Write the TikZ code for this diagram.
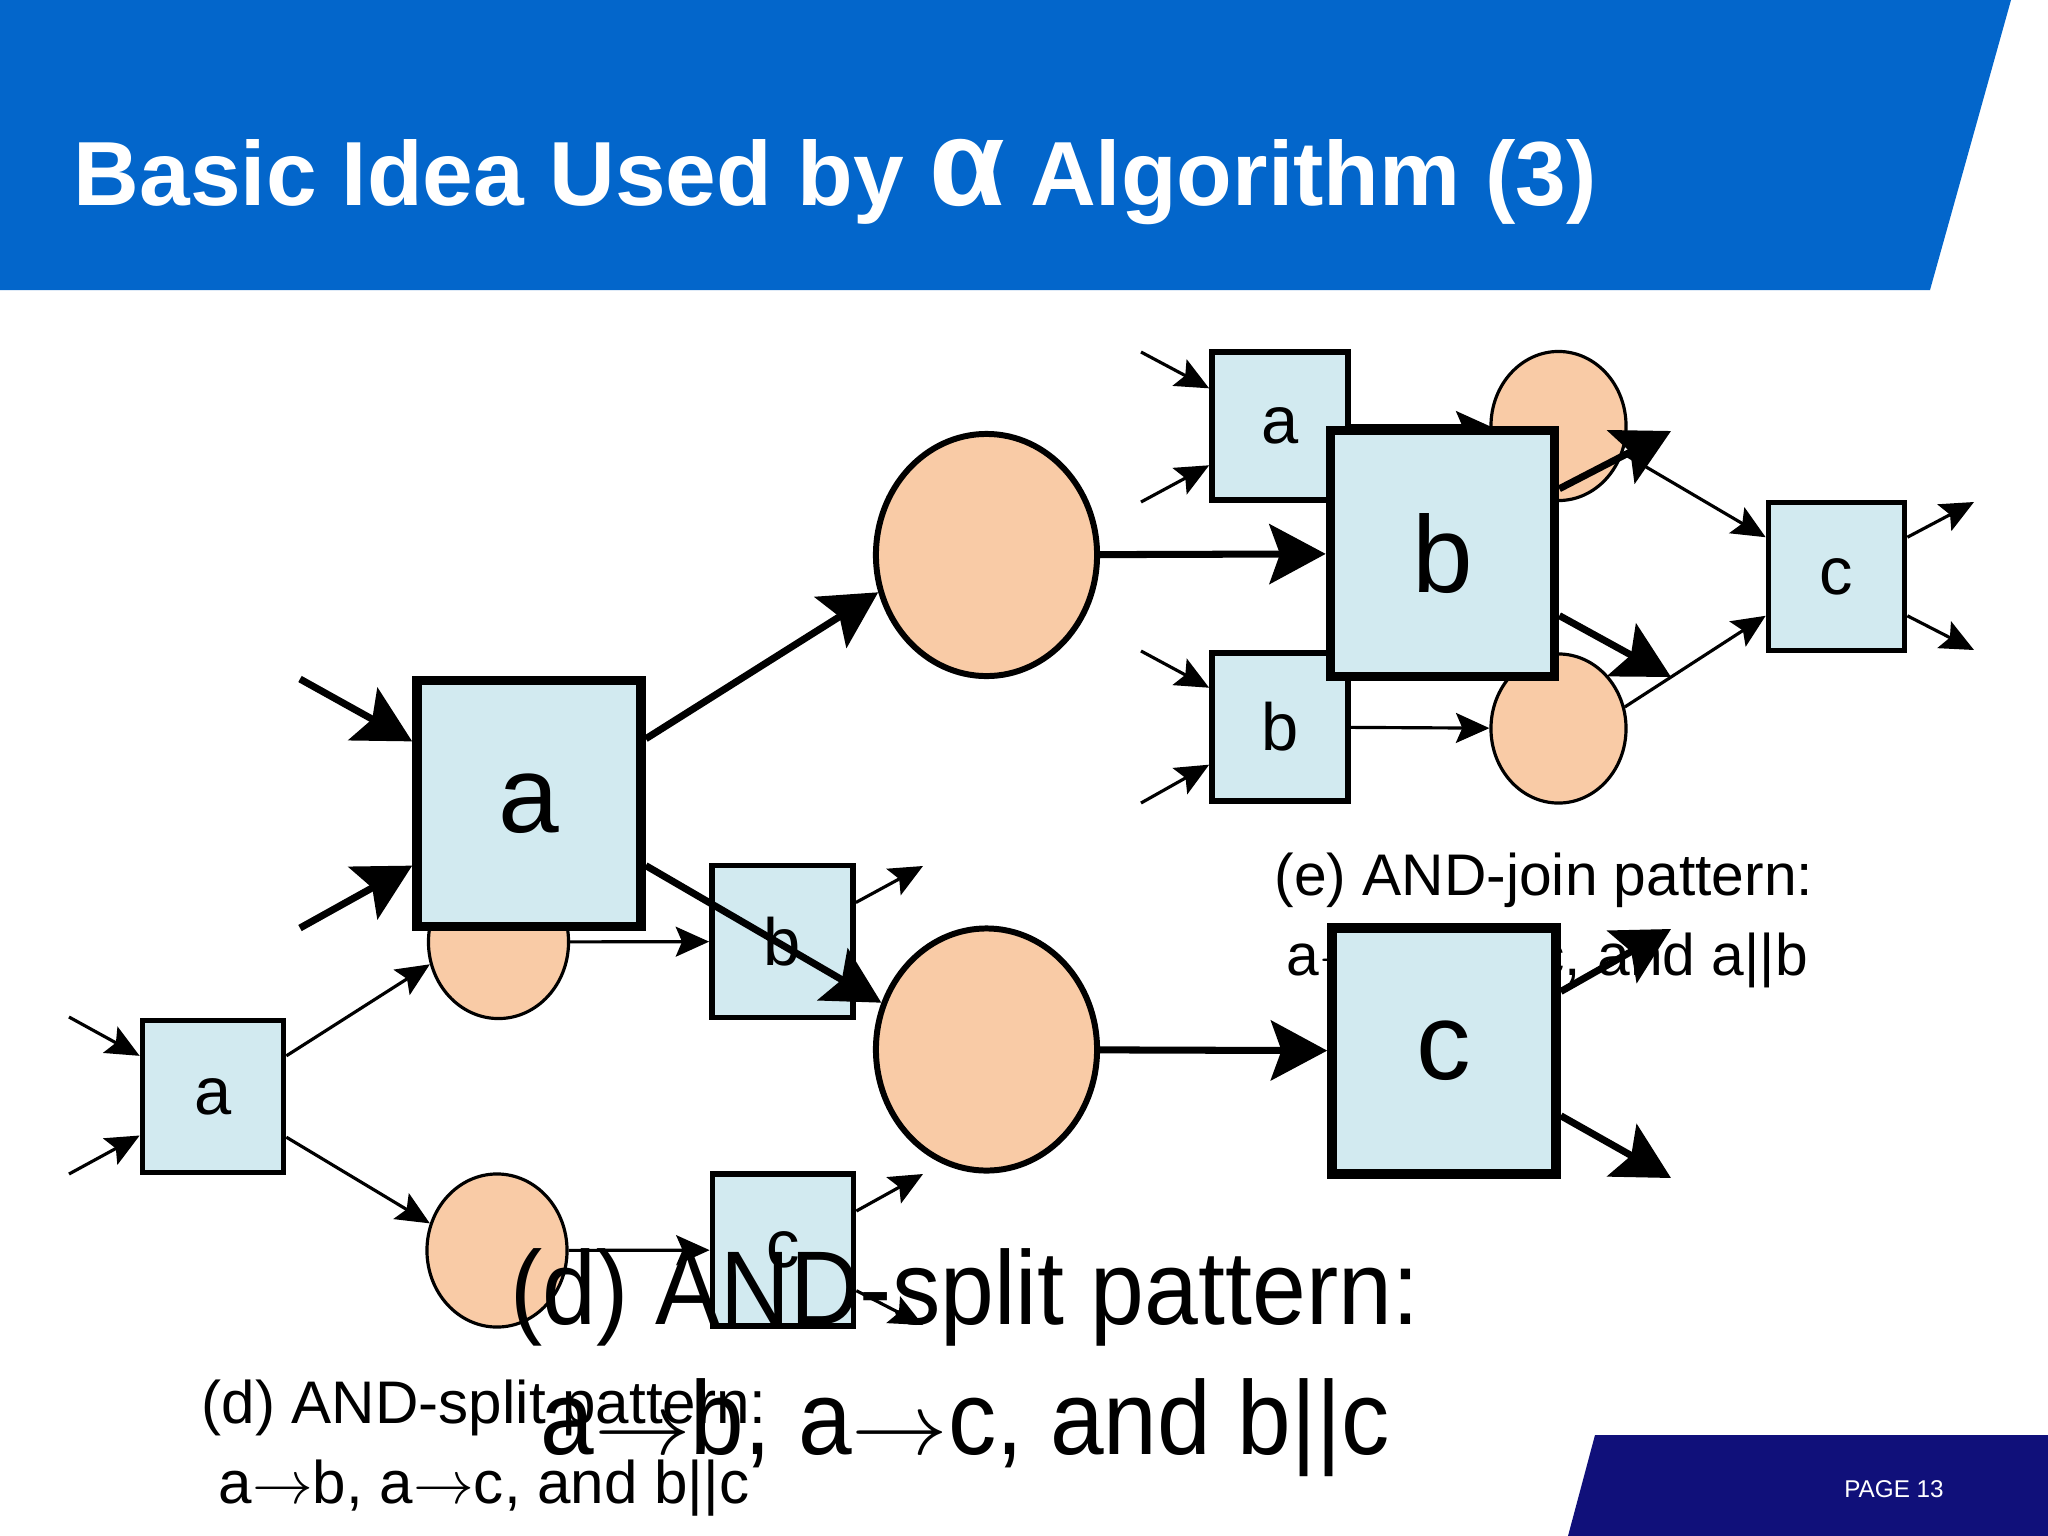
\documentclass[tikz,border=0pt]{standalone}
\usepackage{fontspec}
\setmainfont{Liberation Sans}
\usepackage{graphicx}
\usetikzlibrary{arrows.meta,shapes.geometric}
\definecolor{titleblue}{HTML}{0366CB}
\definecolor{navybar}{HTML}{10107A}
\definecolor{boxblue}{HTML}{D2EAF0}
\definecolor{peach}{HTML}{F9CBA6}
\newcommand{\ra}{\ensuremath{\rightarrow}}
\newcommand{\bra}{\scalebox{1.2}[1]{\ensuremath{\rightarrow}}}
\begin{document}
\begin{tikzpicture}[x=0.01cm,y=-0.01cm,
  sbox/.style={rectangle, draw, line width=1.6pt, fill=boxblue, inner sep=0pt, font=\fontsize{19pt}{19pt}\selectfont},
  sboxd/.style={sbox, minimum width=1.41cm, minimum height=1.52cm},
  sboxe/.style={sbox, minimum width=1.36cm, minimum height=1.48cm},
  bbox/.style={rectangle, draw, line width=2.7pt, fill=boxblue, inner sep=0pt, minimum width=2.24cm, minimum height=2.46cm, font=\fontsize{31pt}{31pt}\selectfont},
  sell/.style={ellipse, draw, line width=0.9pt, fill=peach, inner sep=0pt},
  selld/.style={sell, minimum width=1.40cm, minimum height=1.53cm},
  selle/.style={sell, minimum width=1.35cm, minimum height=1.49cm},
  bell/.style={ellipse, draw, line width=1.7pt, fill=peach, inner sep=0pt, minimum width=2.21cm, minimum height=2.42cm},
  sarr/.style={line width=0.9pt, -{Stealth[length=9.5pt,width=8.5pt,inset=1.8pt]}},
  barr/.style={line width=2pt, -{Stealth[length=16pt,width=17pt,inset=3pt]}},
  txt/.style={anchor=base west, inner sep=0pt, font=\fontsize{17.1pt}{17.1pt}\selectfont},
  etxt/.style={anchor=base west, inner sep=0pt, font=\fontsize{16.7pt}{16.7pt}\selectfont},
  bigtxt/.style={anchor=base west, inner sep=0pt, font=\fontsize{29.8pt}{29.8pt}\selectfont}
]
\useasboundingbox (0,0) rectangle (2048,1536);
\fill[white] (0,0) rectangle (2048,1536);
% bars
\fill[titleblue] (0,0) -- (2011,0) -- (1930,290) -- (0,290) -- cycle;
\fill[navybar] (1595,1435) -- (2048,1435) -- (2048,1536) -- (1568,1536) -- cycle;
\node[anchor=base west, inner sep=0pt, text=white, font=\fontsize{25.9pt}{26pt}\selectfont\bfseries] (title) at (73,205)
  {Basic Idea Used by {\fontsize{35pt}{35pt}\selectfont α} Algorithm (3)};
\node[anchor=base, inner sep=0pt, text=white, font=\fontsize{6.9pt}{7pt}\selectfont] (page) at (1894,1497) {PAGE 13};

% ---------- (d) small ----------
\node[selld] (E1d) at (498.5,942) {};
\node[selld] (E2d) at (497,1250.5) {};
\node[sboxd] (sa) at (213,1096.5) {a};
\node[sboxd] (sb) at (782.5,941.5) {b};
\node[sboxd] (sc) at (783,1250) {c};
\coordinate (din1) at (69,1017);
\coordinate (din2) at (69,1174);
\coordinate (doutb) at (923,866);
\coordinate (doutc1) at (923,1174);
\coordinate (doutc2) at (923,1325);
\draw[sarr] (din1) -- (sa.151);
\draw[sarr] (din2) -- (sa.208);
\draw[sarr] (sa.29) -- (E1d.198);
\draw[sarr] (sa.331) -- (E2d.158);
\draw[sarr] (E1d) -- (sb);
\draw[sarr] (E2d) -- (sc);
\draw[sarr] (sb.28) -- (doutb);
\draw[sarr] (sc.28) -- (doutc1);
\draw[sarr] (sc.331) -- (doutc2);

% ---------- (d) big ----------
\node[bbox] (bigA) at (529,803.5) {a};
\node[bell] (bigE1) at (986.5,555) {};
\node[bell] (bigE2) at (986.5,1049.5) {};
\coordinate (bin1) at (300,679);
\coordinate (bin2) at (300,928);
\draw[barr] (bin1) -- (bigA.152);
\draw[barr] (bin2) -- (bigA.208);
\draw[barr] (bigA.29) -- (bigE1.199);
\draw[barr] (bigA.332) -- (bigE2.156);

% ---------- (e) small ----------
\node[sboxe] (ea) at (1280,426) {a};
\node[sboxe] (eb) at (1280,727) {b};
\node[selle] (eE1) at (1558.5,426) {};
\node[selle] (eE2) at (1558.5,728.5) {};
\node[sboxe] (ec) at (1836.5,576.5) {c};
\coordinate (ein1) at (1141,352);
\coordinate (ein2) at (1141,502);
\coordinate (ein3) at (1141,651);
\coordinate (ein4) at (1141,803);
\coordinate (eout1) at (1974,502);
\coordinate (eout2) at (1974,650);
\draw[sarr] (ein1) -- (ea.152);
\draw[sarr] (ein2) -- (ea.209);
\draw[sarr] (ein3) -- (eb.151);
\draw[sarr] (ein4) -- (eb.208);
\draw[sarr] (ea) -- (eE1);
\draw[sarr] (eb) -- (eE2);
\draw[sarr] (eE1.337) -- (ec.151);
\draw[sarr] (eE2.18) -- (ec.209);
\draw[sarr] (ec.29) -- (eout1);
\draw[sarr] (ec.331) -- (eout2);

% (e) caption
\node[etxt] (etxt1) at (1274,895) {(e) AND-join pattern:};
\node[etxt] (etxt2) at (1286,975) {a\ra c, b\ra c, and a||b};

% ---------- (e) big ----------
\node[bbox] (bigB) at (1442.5,553.5) {b};
\node[bbox] (bigC) at (1444,1051) {c};
\coordinate (bbout1) at (1671,431);
\coordinate (bbout2) at (1671,677);
\coordinate (bcout1) at (1671,929);
\coordinate (bcout2) at (1671,1178);
\draw[barr] (bigE1) -- (bigB);
\draw[barr] (bigE2) -- (bigC);
\draw[barr] (bigB.29) -- (bbout1);
\draw[barr] (bigB.332) -- (bbout2);
\draw[barr] (bigC.27) -- (bcout1);
\draw[barr] (bigC.331) -- (bcout2);

% (d) captions
\node[txt] (dtxt1) at (201,1423) {(d) AND-split pattern:};
\node[txt] (dtxt2) at (218,1503) {a\ra b, a\ra c, and b||c};
\node[bigtxt] (dbig1) at (510,1324) {\scalebox{0.923}[1]{(d) AND-split pattern:}};
\node[bigtxt] (dbig2) at (540,1454) {\scalebox{0.92}[1]{a\bra b, a\bra c, and b||c}};
\end{tikzpicture}
\end{document}
